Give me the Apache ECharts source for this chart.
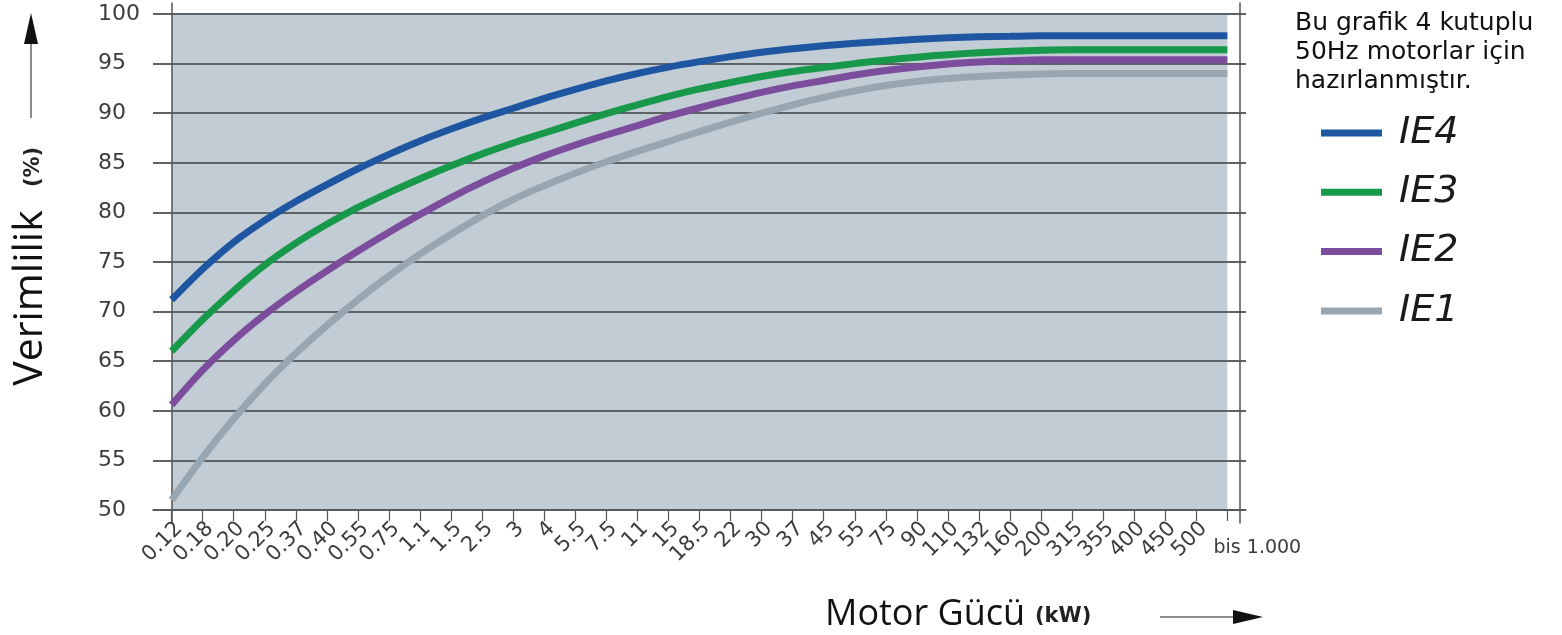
<!DOCTYPE html>
<html>
<head>
<meta charset="utf-8">
<script src="https://cdn.jsdelivr.net/npm/echarts@6/dist/echarts.min.js"></script>
<style>
html,body{margin:0;padding:0;background:#fff;}
#chart{width:1562px;height:635px;}
</style>
</head>
<body>
<div id="chart"></div>
<script>
// ---- data ----
var xLabels = ['0.12','0.18','0.20','0.25','0.37','0.40','0.55','0.75','1.1','1.5','2.5','3','4','5.5','7.5','11','15','18.5','22','30','37','45','55','75','90','110','132','160','200','315','355','400','450','500','bis 1.000'];
var yTicks = [50, 100, 5];
var seriesNames = ['IE4','IE3','IE2','IE1'];
var ie4 = [71.2,74.3,77.0,79.2,81.1,82.8,84.4,85.85,87.2,88.4,89.5,90.5,91.5,92.4,93.25,94.0,94.65,95.2,95.7,96.15,96.5,96.8,97.05,97.25,97.45,97.6,97.7,97.75,97.8,97.8,97.8,97.8,97.8,97.8,97.8];
var ie3 = [66.0,69.2,72.1,74.7,76.9,78.8,80.5,82.0,83.4,84.7,85.9,87.0,88.0,89.0,89.95,90.85,91.7,92.45,93.1,93.7,94.2,94.6,95.0,95.35,95.65,95.9,96.1,96.25,96.35,96.4,96.4,96.4,96.4,96.4,96.4];
var ie2 = [60.6,64.1,67.1,69.7,72.0,74.1,76.1,78.0,79.8,81.5,83.05,84.45,85.7,86.8,87.8,88.75,89.7,90.55,91.35,92.1,92.75,93.3,93.85,94.3,94.65,94.95,95.15,95.3,95.4,95.4,95.4,95.4,95.4,95.4,95.4];
var ie1 = [51.0,55.3,59.2,62.7,65.8,68.6,71.2,73.6,75.8,77.8,79.65,81.3,82.7,83.95,85.1,86.15,87.15,88.15,89.1,90.0,90.85,91.6,92.25,92.8,93.2,93.5,93.7,93.85,93.95,94.0,94.0,94.0,94.0,94.0,94.0];
var noteText = ['Bu grafik 4 kutuplu','50Hz motorlar için','hazırlanmıştır.'];
var yTitle = 'Verimlilik', yUnit = '(%)';
var xTitle = 'Motor Gücü', xUnit = '(kW)';

// ---- build ----
var colors = ['#1f56a2','#17984a','#7c4d9d','#97a6b0'];
var seriesData = [ie4, ie3, ie2, ie1];
var idx = xLabels.map(function(_, i){ return i; });
var lastIdx = xLabels.length - 1;
var FONT = '"Open Sans", "Noto Sans", sans-serif';
var TICKFONT = '"DejaVu Sans", sans-serif';

var gridMain = {left:153, right:316, top:14, bottom:125};
var gridFrame = {left:153, right:316, top:3, bottom:112};
var xMin = -0.6, xMax = lastIdx + 0.6;

var series = [{
  name: 'bg', type: 'line', silent: true, z: 0,
  xAxisIndex: 0, yAxisIndex: 0,
  data: [[0, yTicks[1]], [lastIdx, yTicks[1]]],
  symbol: 'none', lineStyle: {width: 0},
  areaStyle: {color: '#c2ccd4', opacity: 1, origin: 'start'}
}];
seriesNames.forEach(function(n, k){
  series.push({
    name: n, type: 'line', z: 3,
    xAxisIndex: 0, yAxisIndex: 0,
    smooth: 0.3, symbol: 'none', color: colors[k],
    lineStyle: {width: 7, color: colors[k], cap: 'butt'},
    data: seriesData[k].map(function(v, i){ return [i, v]; })
  });
});

var option = {
  animation: false,
  title: {
    text: noteText.join('\n'), left: 1295, top: 9, padding: 0,
    textStyle: {fontFamily: TICKFONT, fontSize: 25, lineHeight: 29, fontWeight: 'normal', color: '#111'}
  },
  legend: {
    data: seriesNames, orient: 'vertical', left: 1316, top: 108,
    icon: 'rect', itemWidth: 61, itemHeight: 7, itemGap: 19.3, selectedMode: false,
    textStyle: {fontFamily: TICKFONT, fontStyle: 'italic', fontSize: 38, lineHeight: 40, color: '#1a1a1a', padding: [0,0,0,12]}
  },
  grid: [gridMain, gridFrame],
  xAxis: [{
    type: 'value', gridIndex: 0, min: xMin, max: xMax, position: 'bottom', z: 1,
    axisLine: {show: true, lineStyle: {color: '#555', width: 1.5}},
    axisTick: {show: true, customValues: idx, length: 11, lineStyle: {color: '#555', width: 1.2}},
    axisLabel: {
      customValues: idx.slice(0, lastIdx), rotate: 45, margin: 8, verticalAlign: 'top',
      fontFamily: TICKFONT, fontSize: 21, color: '#3c3c3c',
      formatter: function(v){ return xLabels[Math.round(v)]; }
    },
    splitLine: {show: false}
  }, {
    type: 'value', gridIndex: 1, min: xMin, max: xMax, position: 'bottom',
    axisLine: {show: false}, axisTick: {show: false}, splitLine: {show: false},
    axisLabel: {
      customValues: [lastIdx], rotate: 0, align: 'center', margin: 16, padding: [0, 0, 0, 60],
      fontFamily: TICKFONT, fontSize: 19, color: '#3c3c3c',
      formatter: function(v){ return xLabels[Math.round(v)]; }
    }
  }],
  yAxis: [{
    type: 'value', gridIndex: 0, min: yTicks[0], max: yTicks[1], interval: yTicks[2],
    position: 'left', offset: -6, z: 1,
    axisLine: {show: false},
    axisTick: {show: false},
    axisLabel: {align: 'left', margin: 61, fontFamily: TICKFONT, fontSize: 22, color: '#3c3c3c'},
    splitLine: {show: true, lineStyle: {color: '#5d6367', width: 2}}
  }, {
    type: 'value', gridIndex: 1, min: yTicks[0], max: yTicks[1],
    position: 'left', offset: -6, z: 1,
    axisLine: {show: true, lineStyle: {color: '#555', width: 1.5}},
    axisTick: {show: false}, axisLabel: {show: false}, splitLine: {show: false}
  }, {
    type: 'value', gridIndex: 1, min: yTicks[0], max: yTicks[1],
    position: 'right', offset: -6, z: 1,
    axisLine: {show: true, lineStyle: {color: '#555', width: 1.5}},
    axisTick: {show: false}, axisLabel: {show: false}, splitLine: {show: false}
  }],
  graphic: [
    {type: 'line', shape: {x1: 31, y1: 118, x2: 31, y2: 40}, style: {stroke: '#666', lineWidth: 1.5}},
    {type: 'polygon', shape: {points: [[31, 13], [24, 44], [38, 44]]}, style: {fill: '#111'}},
    {type: 'text', x: 30, y: 298, rotation: Math.PI / 2,
      style: {text: yTitle, fontFamily: FONT, fontSize: 41, fill: '#111', align: 'center', verticalAlign: 'middle'}},
    {type: 'text', x: 34, y: 167, rotation: Math.PI / 2,
      style: {text: yUnit, fontFamily: TICKFONT, fontWeight: 'bold', fontSize: 21, fill: '#222', align: 'center', verticalAlign: 'middle'}},
    {type: 'text', x: 825, y: 615,
      style: {text: xTitle, fontFamily: FONT, fontSize: 36, fill: '#111', align: 'left', verticalAlign: 'middle'}},
    {type: 'text', x: 1035, y: 617,
      style: {text: xUnit, fontFamily: TICKFONT, fontWeight: 'bold', fontSize: 21, fill: '#222', align: 'left', verticalAlign: 'middle'}},
    {type: 'line', shape: {x1: 1160, y1: 617, x2: 1240, y2: 617}, style: {stroke: '#666', lineWidth: 1.5}},
    {type: 'polygon', shape: {points: [[1263, 617], [1233, 610], [1233, 624]]}, style: {fill: '#111'}}
  ],
  series: series
};

var chart = echarts.init(document.getElementById('chart'), null, {renderer: 'canvas'});
chart.setOption(option);
</script>
</body>
</html>
